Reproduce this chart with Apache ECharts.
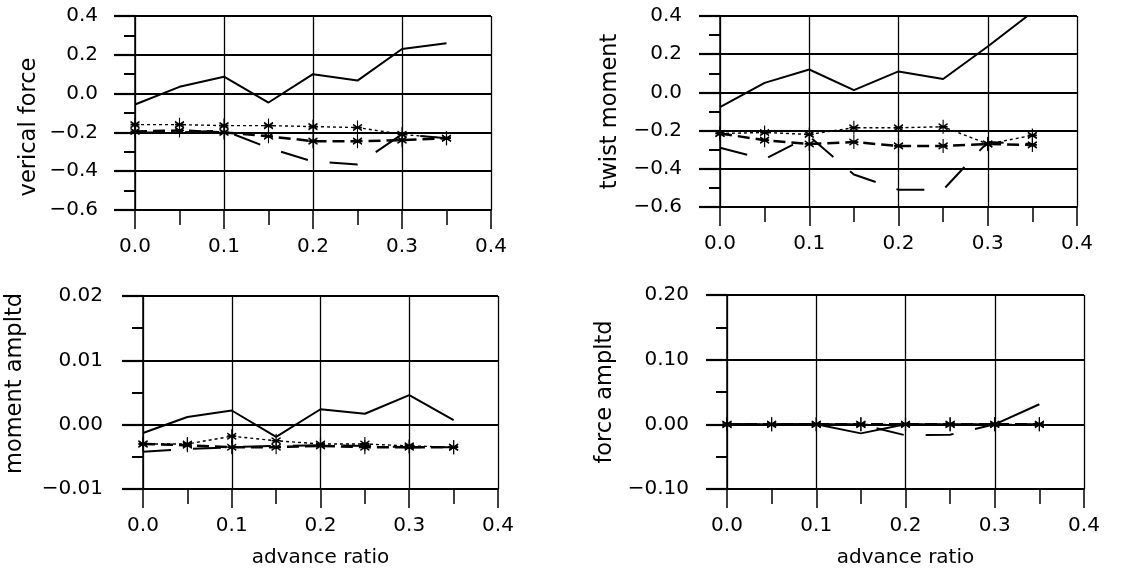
<!DOCTYPE html>
<html>
<head>
<meta charset="utf-8">
<script src="https://cdn.jsdelivr.net/npm/echarts@6/dist/echarts.min.js"></script>
<style>
html,body{margin:0;padding:0;background:#fff;}
#chart{width:1148px;height:575px;}
</style>
</head>
<body>
<div id="chart"></div>
<script>
// ---- data ----
const advRatio = [0, 0.05, 0.1, 0.15, 0.2, 0.25, 0.3, 0.35];
const xTickLabels = ['0.0', '0.1', '0.2', '0.3', '0.4'];

const panelNames = ['verical force', 'twist moment', 'moment ampltd', 'force ampltd'];
const xName = 'advance ratio';

// panel 1: verical force
const vfSolid      = [-0.056, 0.035, 0.087, -0.046, 0.10, 0.067, 0.23, 0.26];
const vfStarUpper  = [-0.16, -0.16, -0.165, -0.165, -0.17, -0.175, -0.21, -0.23];
const vfStarDashed = [-0.195, -0.19, -0.20, -0.22, -0.245, -0.245, -0.24, -0.23];
const vfLongDash   = [-0.20, -0.20, -0.19, -0.28, -0.35, -0.365, -0.21, -0.23];

// panel 2: twist moment
const tmSolid      = [-0.077, 0.05, 0.12, 0.012, 0.11, 0.07, 0.24, 0.42];
const tmStarUpper  = [-0.215, -0.21, -0.22, -0.185, -0.185, -0.18, -0.27, -0.225];
const tmStarDashed = [-0.215, -0.25, -0.27, -0.26, -0.28, -0.28, -0.27, -0.275];
const tmLongDash   = [-0.29, -0.35, -0.23, -0.43, -0.51, -0.51, -0.26, -0.27];

// panel 3: moment ampltd
const maSolid      = [-0.0013, 0.0012, 0.0022, -0.0019, 0.0024, 0.0017, 0.0046, 0.0007];
const maStarUpper  = [-0.003, -0.003, -0.0018, -0.0025, -0.003, -0.003, -0.0033, -0.0035];
const maStarDashed = [-0.003, -0.0032, -0.0035, -0.0035, -0.0033, -0.0035, -0.0035, -0.0035];
const maLongDash   = [-0.0042, -0.0038, -0.0035, -0.0033, -0.0032, -0.0033, -0.0035, -0.0035];

// panel 4: force ampltd
const faSolid      = [0, 0, 0, -0.014, 0, 0, 0, 0.031];
const faStarUpper  = [0, 0, 0, 0, 0, 0, 0, 0];
const faStarDashed = [0, 0, 0, 0, 0, 0, 0, 0];
const faLongDash   = [0, 0, 0, 0, -0.017, -0.016, 0, 0];

// y axis ranges
const yMin = [-0.6, -0.6, -0.01, -0.1];
const yMax = [0.4, 0.4, 0.02, 0.2];
const yStep = [0.2, 0.2, 0.01, 0.1];
const yDecimals = [1, 1, 2, 2];

// ---- layout ----
const grids = [
  {left: 135, top: 16, width: 356, height: 194},
  {left: 720, top: 16, width: 357, height: 191},
  {left: 143, top: 296, width: 355, height: 193},
  {left: 727, top: 295, width: 357, height: 194}
];
const yLabelMargin = [37, 38, 40, 38];
const yNameGap = [94, 98, 116, 110];
const yNamePad = [[0, 28, 0, 0], [0, 0, 0, 0], [0, 0, 0, 18], [0, 0, 0, 0]];

const FONT = 'DejaVu Sans';
const BLACK = '#000';

const seriesSets = [
  [vfSolid, vfStarUpper, vfStarDashed, vfLongDash],
  [tmSolid, tmStarUpper, tmStarDashed, tmLongDash],
  [maSolid, maStarUpper, maStarDashed, maLongDash],
  [faSolid, faStarUpper, faStarDashed, faLongDash]
];

const STAR = 'path://M5,0L5,14M0,4L10,10M0,10L10,4M0,7L10,7';

function pairs(ys) { return advRatio.map((x, i) => [x, ys[i]]); }

const option = {
  animation: false,
  backgroundColor: '#fff',
  grid: grids.map(g => Object.assign({containLabel: false}, g)),
  xAxis: grids.map((g, i) => ({
    type: 'value', gridIndex: i, min: 0, max: 0.4, interval: 0.1,
    name: i >= 2 ? xName : '',
    nameLocation: 'middle', nameGap: 59,
    nameTextStyle: {fontFamily: FONT, fontSize: 20, color: BLACK},
    axisLine: {show: true, onZero: false, lineStyle: {color: BLACK, width: 2}},
    axisTick: {show: true, length: 19, inside: false, lineStyle: {color: BLACK, width: 1.5}},
    minorTick: {show: true, splitNumber: 2, length: 15, lineStyle: {color: BLACK, width: 1.5}},
    axisLabel: {margin: 27, fontFamily: FONT, fontSize: 20, color: BLACK,
      formatter: v => xTickLabels[Math.round(v * 10)]},
    splitLine: {show: true, lineStyle: {color: BLACK, width: 1.3}}
  })),
  yAxis: grids.map((g, i) => ({
    type: 'value', gridIndex: i, min: yMin[i], max: yMax[i], interval: yStep[i],
    name: panelNames[i], nameLocation: 'middle', nameGap: yNameGap[i], nameRotate: 90,
    nameTextStyle: {fontFamily: FONT, fontSize: 22.5, color: BLACK, padding: yNamePad[i]},
    axisLine: {show: true, onZero: false, lineStyle: {color: BLACK, width: 1.5}},
    axisTick: {show: true, length: 21, inside: false, lineStyle: {color: BLACK, width: 2.2}},
    minorTick: {show: true, splitNumber: 2, length: 11, lineStyle: {color: BLACK, width: 2}},
    axisLabel: {margin: yLabelMargin[i], fontFamily: FONT, fontSize: 20, color: BLACK,
      formatter: v => v.toFixed(yDecimals[i]).replace('-', '\u2212')},
    splitLine: {show: true, lineStyle: {color: BLACK, width: 2.2}}
  })),
  series: []
};

seriesSets.forEach((set, i) => {
  option.series.push({
    type: 'line', xAxisIndex: i, yAxisIndex: i, data: pairs(set[0]),
    showSymbol: false, symbol: 'none', clip: true,
    lineStyle: {color: BLACK, width: 2}
  });
  option.series.push({
    type: 'line', xAxisIndex: i, yAxisIndex: i, data: pairs(set[1]),
    symbol: STAR, symbolSize: [9, 14], clip: true,
    itemStyle: {color: BLACK, borderColor: BLACK, borderWidth: 1.4},
    lineStyle: {color: BLACK, width: 1.4, type: [3, 3]}
  });
  option.series.push({
    type: 'line', xAxisIndex: i, yAxisIndex: i, data: pairs(set[2]),
    symbol: STAR, symbolSize: [9, 14], clip: true,
    itemStyle: {color: BLACK, borderColor: BLACK, borderWidth: 1.4},
    lineStyle: {color: BLACK, width: 2.5, type: [12, 6]}
  });
  option.series.push({
    type: 'line', xAxisIndex: i, yAxisIndex: i, data: pairs(set[3]),
    symbol: 'none', clip: true,
    lineStyle: {color: BLACK, width: 2, type: [28, 22]}
  });
});

const chart = echarts.init(document.getElementById('chart'), null, {renderer: 'canvas'});
chart.setOption(option);
</script>
</body>
</html>
